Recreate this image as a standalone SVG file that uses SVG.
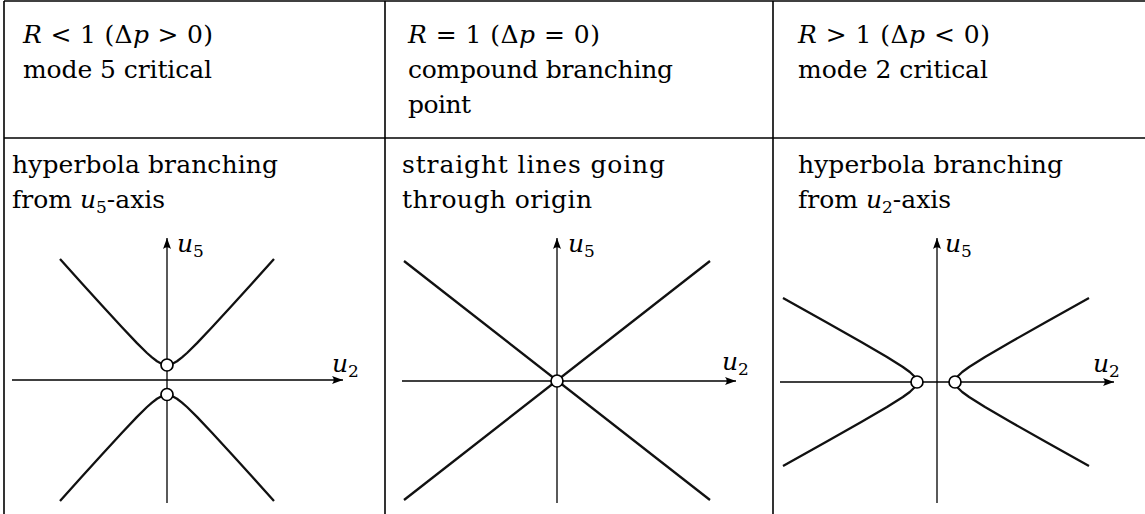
<svg xmlns="http://www.w3.org/2000/svg" width="1145" height="514" viewBox="0 0 1145 514">
<style>
text{font-family:"DejaVu Serif","Liberation Serif",serif;font-size:25px;fill:#000}
.i{font-style:italic}
.sub{font-size:17px}
.grid{stroke:#000;stroke-width:1.6;fill:none}
.axis{stroke:#000;stroke-width:1.3;fill:none;marker-end:url(#arr)}
.curve{stroke:#111;stroke-width:2.3;fill:none;stroke-linejoin:round;stroke-linecap:butt}
.pt{fill:#fff;stroke:#000;stroke-width:1.7}
</style>
<defs>
<marker id="arr" viewBox="-12 -5 13 10" refX="0" refY="0" markerWidth="13" markerHeight="10" markerUnits="userSpaceOnUse" orient="auto">
<path d="M0,0 L-11,-4 Q-7.5,0 -11,4 Z" fill="#000"/>
</marker>
</defs>
<rect width="1145" height="514" fill="#fff"/>
<g id="table" class="grid">
<line x1="4" y1="1" x2="1145" y2="1"/>
<line x1="4" y1="1" x2="4" y2="514"/>
<line x1="385" y1="1" x2="385" y2="514"/>
<line x1="773" y1="1" x2="773" y2="514"/>
<line x1="4" y1="138" x2="1145" y2="138"/>
</g>
<g id="cell-header-1">
<text x="23" y="43" textLength="190" lengthAdjust="spacing"><tspan class="i">R</tspan> &lt; 1 (Δ<tspan class="i">p</tspan> &gt; 0)</text>
<text x="23" y="78" textLength="189" lengthAdjust="spacing">mode 5 critical</text>
</g>
<g id="cell-header-2">
<text x="408" y="43" textLength="192" lengthAdjust="spacing"><tspan class="i">R</tspan> = 1 (Δ<tspan class="i">p</tspan> = 0)</text>
<text x="408" y="78" textLength="265" lengthAdjust="spacing">compound branching</text>
<text x="408" y="113" textLength="63" lengthAdjust="spacing">point</text>
</g>
<g id="cell-header-3">
<text x="798" y="43" textLength="192" lengthAdjust="spacing"><tspan class="i">R</tspan> &gt; 1 (Δ<tspan class="i">p</tspan> &lt; 0)</text>
<text x="798" y="78" textLength="190" lengthAdjust="spacing">mode 2 critical</text>
</g>
<g id="cell-body-1">
<text x="12" y="173" textLength="266" lengthAdjust="spacing">hyperbola branching</text>
<text x="12" y="208">from <tspan class="i">u</tspan><tspan class="sub" dy="5">5</tspan><tspan dy="-5">-axis</tspan></text>
</g>
<g id="cell-body-2">
<text x="402" y="173" textLength="263" lengthAdjust="spacing">straight lines going</text>
<text x="402" y="208" textLength="190" lengthAdjust="spacing">through origin</text>
</g>
<g id="cell-body-3">
<text x="798" y="173" textLength="265" lengthAdjust="spacing">hyperbola branching</text>
<text x="798" y="208">from <tspan class="i">u</tspan><tspan class="sub" dy="5">2</tspan><tspan dy="-5">-axis</tspan></text>
</g>
<g id="graph-1">
<line class="axis" x1="167" y1="503" x2="167" y2="238"/>
<line class="axis" x1="12" y1="380" x2="343" y2="380"/>
<path class="curve" d="M60,259 L82,283.45 L102,305.54 L122,327.33 L137,343.15 L147,353.01 L152,357.45 L157,361.27 L162,363.98 L167,365 L172,363.98 L177,361.27 L182,357.45 L187,353.01 L197,343.15 L212,327.33 L232,305.54 L252,283.45 L274,259"/>
<path class="curve" d="M60,501 L82,476.55 L102,454.46 L122,432.67 L137,416.85 L147,406.99 L152,402.55 L157,398.73 L162,396.02 L167,395 L172,396.02 L177,398.73 L182,402.55 L187,406.99 L197,416.85 L212,432.67 L232,454.46 L252,476.55 L274,501"/>
<circle class="pt" cx="167" cy="365" r="6"/>
<circle class="pt" cx="167" cy="394.5" r="6"/>
<text x="177" y="252"><tspan class="i">u</tspan><tspan class="sub" dy="5">5</tspan></text>
<text x="332" y="372"><tspan class="i">u</tspan><tspan class="sub" dy="5">2</tspan></text>
</g>
<g id="graph-2">
<line class="axis" x1="557" y1="503" x2="557" y2="238"/>
<line class="axis" x1="402" y1="381" x2="736" y2="381"/>
<line class="curve" x1="404" y1="261" x2="710" y2="500"/>
<line class="curve" x1="404" y1="500" x2="710" y2="261"/>
<circle class="pt" cx="557" cy="381" r="6"/>
<text x="568" y="252"><tspan class="i">u</tspan><tspan class="sub" dy="5">5</tspan></text>
<text x="722" y="370"><tspan class="i">u</tspan><tspan class="sub" dy="5">2</tspan></text>
</g>
<g id="graph-3">
<line class="axis" x1="937" y1="503" x2="937" y2="238"/>
<line class="axis" x1="780" y1="382" x2="1114" y2="382"/>
<path class="curve" d="M783,298 L825.91,322 L861.25,342 L886.99,357 L902.9,367 L909.78,372 L914.96,377 L917,382 L914.96,387 L909.78,392 L902.9,397 L886.99,407 L861.25,422 L825.91,442 L783,466"/>
<path class="curve" d="M1089,298 L1046.09,322 L1010.75,342 L985.01,357 L969.1,367 L962.22,372 L957.04,377 L955,382 L957.04,387 L962.22,392 L969.1,397 L985.01,407 L1010.75,422 L1046.09,442 L1089,466"/>
<circle class="pt" cx="917" cy="382" r="6"/>
<circle class="pt" cx="955" cy="382" r="6"/>
<text x="945" y="252"><tspan class="i">u</tspan><tspan class="sub" dy="5">5</tspan></text>
<text x="1093" y="372"><tspan class="i">u</tspan><tspan class="sub" dy="5">2</tspan></text>
</g>
</svg>
